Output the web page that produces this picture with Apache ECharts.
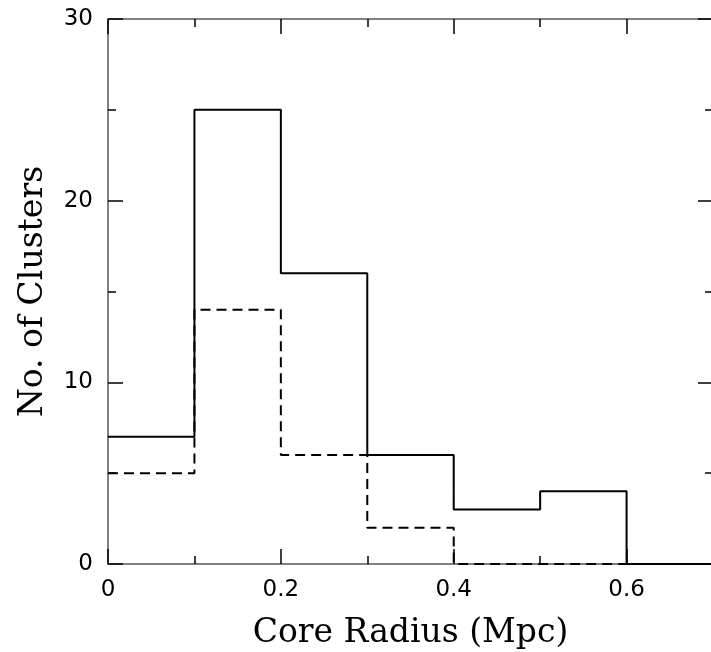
<!DOCTYPE html>
<html>
<head>
<meta charset="utf-8">
<script src="https://cdn.jsdelivr.net/npm/echarts@6/dist/echarts.min.js"></script>
<style>
  html, body { margin: 0; padding: 0; background: #fff; }
  #chart { width: 711px; height: 652px; }
</style>
</head>
<body>
<div id="chart"></div>
<script>
// histogram bins (left edges, Mpc) and counts
const binEdges = [0, 0.1, 0.2, 0.3, 0.4, 0.5, 0.6];
const binWidth = 0.1;
const allCounts = [7, 25, 16, 6, 3, 4, 0];
const subCounts = [5, 14, 6, 2, 0, 0, 0];

const xTitle = 'Core Radius (Mpc)';
const yTitle = 'No. of Clusters';

const stepData = function (counts) {
    const pts = binEdges.map((x, i) => [x, counts[i]]);
    const last = binEdges.length - 1;
    pts.push([binEdges[last] + binWidth, counts[last]]);
    return pts;
};

const axisGray = '#808080';
const titleFont = 'DejaVu Serif';
const labelFont = 'DejaVu Sans';

const xBase = {
    type: 'value', min: 0, max: 0.7,
    axisLine: { show: true, onZero: false, lineStyle: { color: axisGray, width: 2 } },
    splitLine: { show: false },
    axisLabel: { show: false }
};
const yBase = {
    type: 'value', min: 0, max: 30, interval: 10,
    axisLine: { show: true, onZero: false, lineStyle: { color: axisGray, width: 2 } },
    splitLine: { show: false },
    axisTick: { inside: true, length: 15, lineStyle: { color: '#000', width: 1.5 } },
    minorTick: { show: true, splitNumber: 2, length: 8, lineStyle: { color: '#000', width: 1.5 } },
    axisLabel: { show: false }
};

const chart = echarts.init(document.getElementById('chart'));
chart.setOption({
    animation: false,
    backgroundColor: '#fff',
    grid: { left: 108, right: -2, top: 19, bottom: 88, outerBoundsMode: 'none', containLabel: false },
    xAxis: [
        Object.assign({}, xBase, {
            position: 'bottom', interval: 0.2,
            axisTick: { inside: true, length: 15, lineStyle: { color: '#000', width: 1.5 } },
            axisLabel: {
                show: true, showMaxLabel: false, margin: 15,
                color: '#000', fontSize: 23, fontFamily: labelFont
            },
            name: xTitle, nameLocation: 'middle', nameGap: 53,
            nameTextStyle: { color: '#000', fontSize: 33, fontFamily: titleFont }
        }),
        Object.assign({}, xBase, {
            position: 'bottom', interval: 0.1,
            axisTick: { inside: true, length: 8, lineStyle: { color: '#000', width: 1.5 } }
        }),
        Object.assign({}, xBase, {
            position: 'top', interval: 0.2,
            axisTick: { inside: true, length: 15, lineStyle: { color: '#000', width: 1.5 } }
        }),
        Object.assign({}, xBase, {
            position: 'top', interval: 0.1,
            axisTick: { inside: true, length: 8, lineStyle: { color: '#000', width: 1.5 } }
        })
    ],
    yAxis: [
        Object.assign({}, yBase, {
            position: 'left',
            axisLabel: {
                show: true, margin: 15,
                color: '#000', fontSize: 23, fontFamily: labelFont
            },
            name: yTitle, nameLocation: 'middle', nameGap: 58, nameRotate: 90,
            nameTextStyle: { color: '#000', fontSize: 33, fontFamily: titleFont }
        }),
        Object.assign({}, yBase, { position: 'right' })
    ],
    series: [
        {
            name: 'all', type: 'line', step: 'end', symbol: 'none',
            xAxisIndex: 0, yAxisIndex: 0,
            lineStyle: { color: '#000', width: 2 },
            data: stepData(allCounts)
        },
        {
            name: 'sub', type: 'line', step: 'end', symbol: 'none',
            xAxisIndex: 0, yAxisIndex: 0,
            lineStyle: { color: '#000', width: 2, type: [10, 6] },
            data: stepData(subCounts)
        }
    ]
});
</script>
</body>
</html>
